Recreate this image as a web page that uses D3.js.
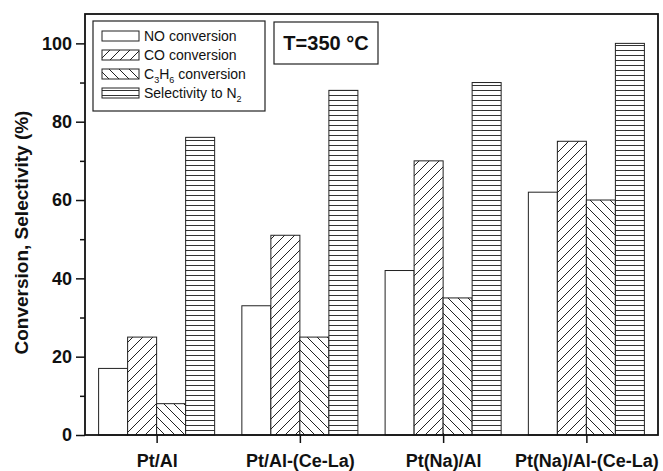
<!DOCTYPE html>
<html>
<head>
<meta charset="utf-8">
<script src="https://cdn.jsdelivr.net/npm/d3@7"></script>
<style>
  body { margin: 0; background: #fff; }
  svg { display: block; font-family: "Liberation Sans", Arial, sans-serif; }
  .tick-label { font-size: 18px; font-weight: bold; fill: #111; }
  .legend-text { font-size: 14px; fill: #111; }
</style>
</head>
<body>
<div id="chart"></div>
<script>
const groups = ["Pt/Al", "Pt/Al-(Ce-La)", "Pt(Na)/Al", "Pt(Na)/Al-(Ce-La)"]
const series = ["NO", "CO", "C3H6", "N2"]
const noConversion = [17, 33, 42, 62]
const coConversion = [25, 51, 70, 75]
const c3h6Conversion = [8, 25, 35, 60]
const selectivityN2 = [76, 88, 90, 100]
const yTicks = [0, 20, 40, 60, 80, 100]
const yMinorTicks = [10, 30, 50, 70, 90]

const values = { NO: noConversion, CO: coConversion, C3H6: c3h6Conversion, N2: selectivityN2 }
const fills = { NO: "#fff", CO: "url(#hatch-fwd)", C3H6: "url(#hatch-back)", N2: "url(#hatch-horiz)" }

const width = 663
const height = 471
const plot = { left: 85, right: 658, top: 14, bottom: 435 }

const svg = d3.select("#chart")
    .append("svg")
    .attr("width", width)
    .attr("height", height)

const defs = svg.append("defs")

// hatch patterns
const fwd = defs.append("pattern")
    .attr("id", "hatch-fwd")
    .attr("patternUnits", "userSpaceOnUse")
    .attr("width", 10).attr("height", 10)
fwd.append("rect").attr("width", 10).attr("height", 10).attr("fill", "#fff")
fwd.append("path")
    .attr("d", "M-1,1 L1,-1 M0,10 L10,0 M9,11 L11,9")
    .attr("stroke", "#222").attr("stroke-width", 1)

const back = defs.append("pattern")
    .attr("id", "hatch-back")
    .attr("patternUnits", "userSpaceOnUse")
    .attr("width", 10).attr("height", 10)
back.append("rect").attr("width", 10).attr("height", 10).attr("fill", "#fff")
back.append("path")
    .attr("d", "M-1,9 L1,11 M0,0 L10,10 M9,-1 L11,1")
    .attr("stroke", "#222").attr("stroke-width", 1)

const horiz = defs.append("pattern")
    .attr("id", "hatch-horiz")
    .attr("patternUnits", "userSpaceOnUse")
    .attr("width", 10).attr("height", 5)
horiz.append("rect").attr("width", 10).attr("height", 5).attr("fill", "#fff")
horiz.append("path")
    .attr("d", "M0,0.5 L10,0.5")
    .attr("stroke", "#333").attr("stroke-width", 1)

const x0 = d3.scaleBand()
    .domain(groups)
    .range([plot.left, plot.right])
    .paddingInner(0.19)
    .paddingOuter(0.095)

const x1 = d3.scaleBand()
    .domain(series)
    .range([0, x0.bandwidth()])

const y = d3.scaleLinear()
    .domain([0, 107.5])
    .range([plot.bottom, plot.top])

// bars
const barData = []
groups.forEach((g, i) => {
    series.forEach((s) => barData.push({ group: g, series: s, value: values[s][i] }))
})

svg.append("g")
    .selectAll("rect")
    .data(barData)
    .join("rect")
    .attr("x", (d) => x0(d.group) + x1(d.series))
    .attr("y", (d) => y(d.value))
    .attr("width", x1.bandwidth())
    .attr("height", (d) => y(0) - y(d.value))
    .attr("fill", (d) => fills[d.series])
    .attr("stroke", "#222")
    .attr("stroke-width", 1)

// axes
const yAxis = svg.append("g")
    .attr("transform", `translate(${plot.left},0)`)
    .call(d3.axisLeft(y).tickValues(yTicks).tickSize(9).tickPadding(4))
yAxis.select(".domain").remove()
yAxis.selectAll(".tick line").attr("stroke", "#111").attr("stroke-width", 1.5)
yAxis.selectAll(".tick text").attr("class", "tick-label").attr("font-size", null).attr("font-family", null)

const yMinor = svg.append("g")
    .attr("transform", `translate(${plot.left},0)`)
    .call(d3.axisLeft(y).tickValues(yMinorTicks).tickSize(5).tickFormat(""))
yMinor.select(".domain").remove()
yMinor.selectAll(".tick line").attr("stroke", "#111").attr("stroke-width", 1.5)

const xCenter = d3.scalePoint()
    .domain(groups)
    .range([x0(groups[0]) + x0.bandwidth() / 2, x0(groups[3]) + x0.bandwidth() / 2])

const xAxis = svg.append("g")
    .attr("transform", `translate(0,${plot.bottom})`)
    .call(d3.axisBottom(xCenter).tickSize(8).tickPadding(11))
xAxis.select(".domain").remove()
xAxis.selectAll(".tick line").attr("stroke", "#111").attr("stroke-width", 1.5)
xAxis.selectAll(".tick text").attr("class", "tick-label").attr("font-size", null).attr("font-family", null)

// frame
svg.append("rect")
    .attr("x", plot.left)
    .attr("y", plot.top)
    .attr("width", plot.right - plot.left)
    .attr("height", plot.bottom - plot.top)
    .attr("fill", "none")
    .attr("stroke", "#111")
    .attr("stroke-width", 1.8)

// y title
svg.append("text")
    .attr("transform", `translate(28,${(plot.top + plot.bottom) / 2 + 8}) rotate(-90)`)
    .attr("text-anchor", "middle")
    .attr("font-size", 19)
    .attr("font-weight", "bold")
    .attr("fill", "#111")
    .text("Conversion, Selectivity (%)")

// legend
const legend = svg.append("g")
legend.append("rect")
    .attr("x", 93).attr("y", 21)
    .attr("width", 172).attr("height", 90)
    .attr("fill", "#fff")
    .attr("stroke", "#222").attr("stroke-width", 1.2)

const legendRows = [
    { s: "NO", parts: [["NO conversion", 0]] },
    { s: "CO", parts: [["CO conversion", 0]] },
    { s: "C3H6", parts: [["C", 0], ["3", 1], ["H", 0], ["6", 1], [" conversion", 0]] },
    { s: "N2", parts: [["Selectivity to N", 0], ["2", 1]] }
]

legendRows.forEach((row, i) => {
    const cy = 36 + i * 19
    legend.append("rect")
        .attr("x", 102).attr("y", cy - 5)
        .attr("width", 37).attr("height", 10)
        .attr("fill", fills[row.s])
        .attr("stroke", "#222").attr("stroke-width", 1)
    const t = legend.append("text")
        .attr("class", "legend-text")
        .attr("x", 144)
        .attr("y", cy + 5)
    let shift = 0
    row.parts.forEach(([txt, sub]) => {
        const target = sub ? 4 : 0
        t.append("tspan")
            .attr("font-size", sub ? 9 : 14)
            .attr("dy", target - shift)
            .text(txt)
        shift = target
    })
})

// temperature box
const tBox = svg.append("g")
tBox.append("rect")
    .attr("x", 274).attr("y", 22)
    .attr("width", 104).attr("height", 42)
    .attr("fill", "#fff")
    .attr("stroke", "#222").attr("stroke-width", 1.2)
tBox.append("text")
    .attr("x", 326).attr("y", 50)
    .attr("text-anchor", "middle")
    .attr("font-size", 20)
    .attr("font-weight", "bold")
    .attr("fill", "#111")
    .text("T=350 °C")
</script>
</body>
</html>
